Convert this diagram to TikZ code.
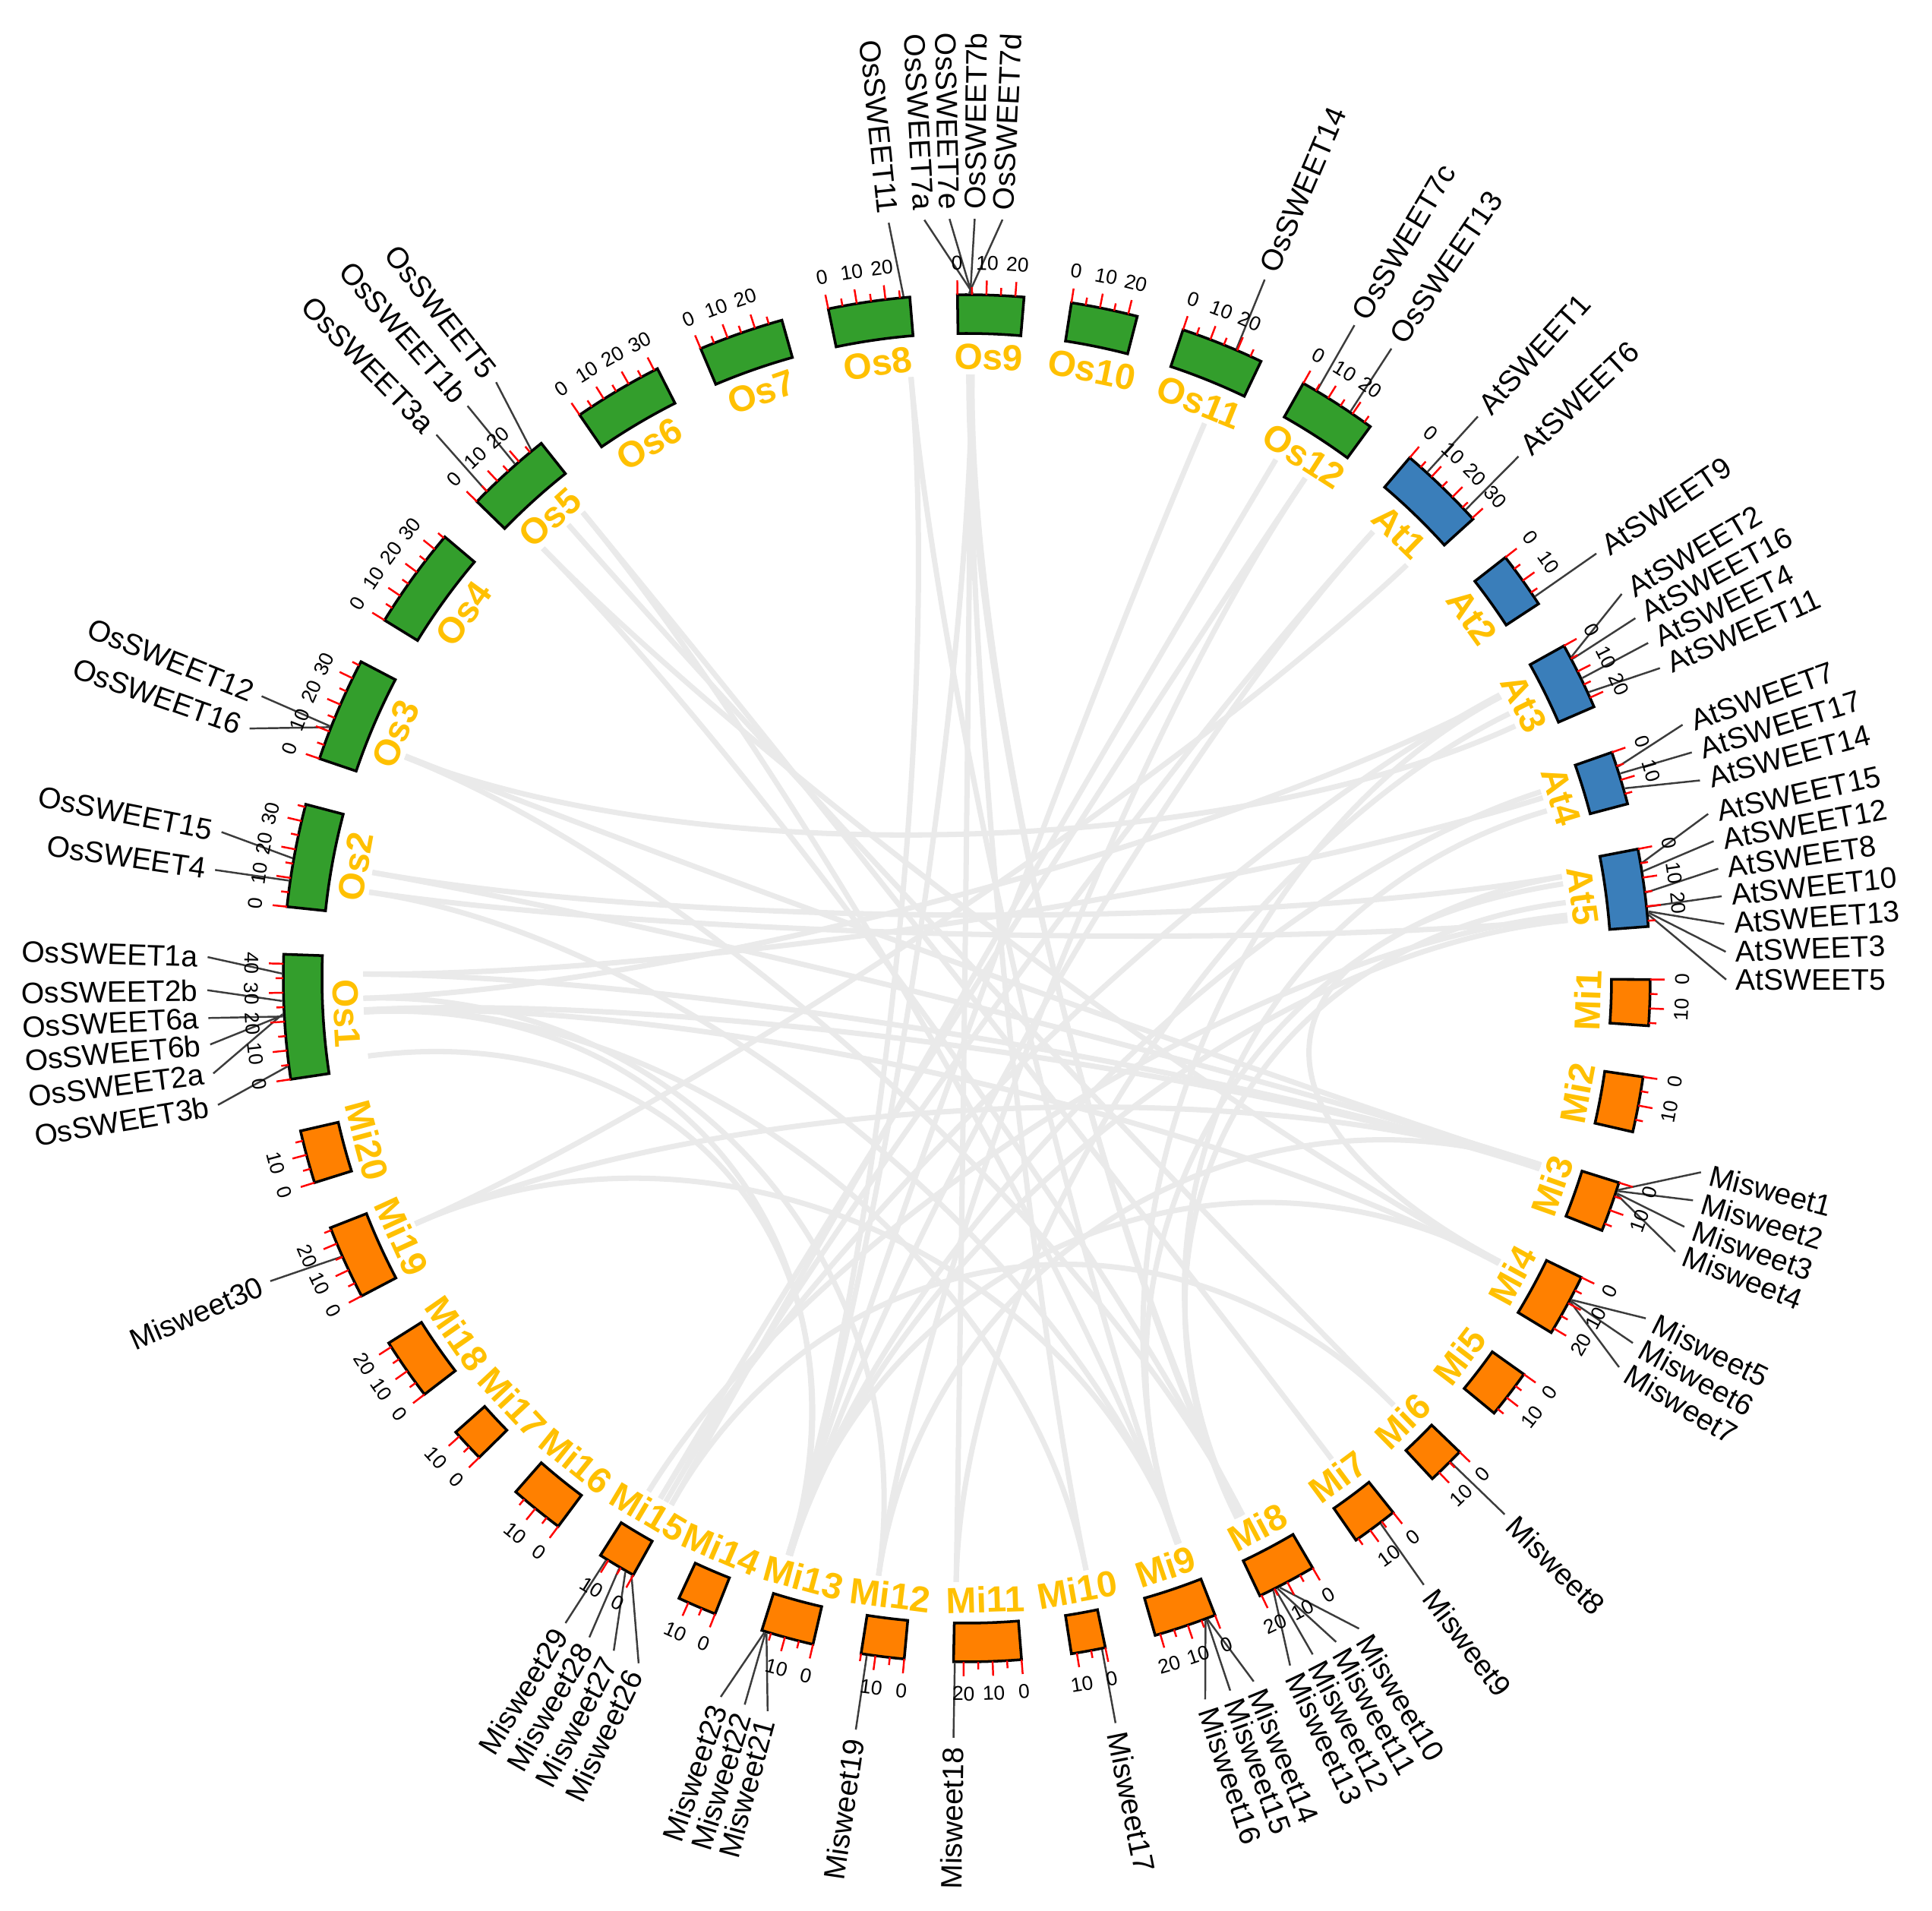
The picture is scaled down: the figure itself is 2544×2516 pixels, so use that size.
\documentclass[tikz,border=0pt]{standalone}
\usepackage{fontspec}
\setmainfont{Liberation Sans}

\definecolor{osgreen}{RGB}{51,158,44}
\definecolor{atblue}{RGB}{58,126,186}
\definecolor{miorange}{RGB}{255,128,0}
\definecolor{chrgold}{RGB}{255,192,0}
\definecolor{linkgray}{RGB}{234,234,234}
\definecolor{leadgray}{RGB}{60,60,60}

\tikzset{
  chrom/.style={draw=black, line width=1pt},
  tickmark/.style={red, line width=0.7pt},
  ticklabel/.style={font=\fontsize{7.5}{8}\selectfont, inner sep=0pt},
  chrlabel/.style={font=\fontsize{13.6}{15}\selectfont\bfseries, text=chrgold, inner sep=0pt},
  genelabel/.style={font=\fontsize{11.1}{12}\selectfont, inner sep=0pt},
  leader/.style={draw=leadgray, line width=0.7pt},
  link/.style={draw=linkgray, line width=2pt},
}

\begin{document}
\begin{tikzpicture}[x=0.01cm, y=0.01cm]
\useasboundingbox (-1273,-1228) rectangle (1271,1288);

\foreach \g/\l/\t in {179.6/178.4/OsSWEET1a, 181.9/180.9/OsSWEET2b, 183.2/183.0/OsSWEET6a,
    183.1/185.0/OsSWEET6b, 183.0/187.2/OsSWEET2a, 187.4/189.6/OsSWEET3b,
    169.9/168.9/OsSWEET15, 171.8/171.8/OsSWEET4,
    158.4/158.2/OsSWEET12, 158.5/160.8/OsSWEET16,
    129.5/128.3/OsSWEET5, 131.3/131.1/OsSWEET1b, 134.6/134.3/OsSWEET3a,
    95.3/95.9/OsSWEET11,
    89.5/93.2/OsSWEET7a, 89.6/91.3/OsSWEET7e, 89.7/89.4/OsSWEET7b, 89.8/87.3/OsSWEET7d,
    66.8/66.9/OsSWEET14, 59.2/59.3/OsSWEET7c, 55.9/56.0/OsSWEET13,
    47.7/47.7/AtSWEET1, 43.2/43.4/AtSWEET6, 33.9/34.0/AtSWEET9,
    28.0/30.4/AtSWEET2, 27.8/28.3/AtSWEET16, 26.0/26.2/AtSWEET4, 24.7/24.1/AtSWEET11,
    18.0/19.5/AtSWEET7, 17.4/17.3/AtSWEET17, 16.1/15.1/AtSWEET14,
    9.7/12.5/AtSWEET15, 9.0/10.4/AtSWEET12, 7.2/8.3/AtSWEET8, 6.0/6.2/AtSWEET10,
    5.6/4.1/AtSWEET13, 5.5/2.0/AtSWEET3, 5.3/-0.1/AtSWEET5,
    -18.0/-14.8/Misweet1, -18.1/-17.0/Misweet2, -18.3/-19.1/Misweet3, -18.4/-21.1/Misweet4,
    -28.0/-26.6/Misweet5, -28.1/-28.7/Misweet6, -28.2/-30.8/Misweet7,
    -45.0/-44.9/Misweet8, -52.8/-53.0/Misweet9,
    -62.8/-58.9/Misweet10, -63.0/-60.9/Misweet11, -63.2/-62.9/Misweet12, -63.4/-64.8/Misweet13,
    -69.4/-67.8/Misweet14, -69.5/-69.7/Misweet15, -69.6/-71.7/Misweet16,
    -78.6/-78.7/Misweet17, -91.0/-91.0/Misweet18, -98.4/-98.4/Misweet19,
    -107.0/-105.2/Misweet21, -107.1/-107.0/Misweet22, -107.2/-108.9/Misweet23,
    -119.3/-115.6/Misweet26, -119.9/-117.7/Misweet27, -120.5/-119.8/Misweet28, -121.8/-121.9/Misweet29,
    -156.0/-156.5/Misweet30}{
  \coordinate (\t-in) at (\g:795);
  \coordinate (\t-c) at (\g:380);
  \coordinate (\t-out) at (\g:902);
  \coordinate (\t-end) at (\l:1000);
  \pgfmathparse{cos(\l)}
  \ifdim\pgfmathresult pt>0pt
    \node[genelabel, rotate=\l, anchor=west] (\t) at (\l:1012) {\t};
  \else
    \node[genelabel, rotate=\l+180, anchor=east] (\t) at (\l:1012) {\t};
  \fi
  \draw[leader] (\t-out) -- (\t-end);
}

\foreach \a/\b in {OsSWEET1a/Misweet3, OsSWEET2b/Misweet19, OsSWEET6a/Misweet22, OsSWEET6b/Misweet17,
    OsSWEET2a/Misweet4, OsSWEET3b/Misweet21, OsSWEET6a/Misweet7, OsSWEET15/Misweet1, OsSWEET4/Misweet14,
    OsSWEET12/Misweet2, OsSWEET16/Misweet10, OsSWEET5/Misweet9, OsSWEET1b/Misweet8,
    OsSWEET3a/Misweet6, OsSWEET11/Misweet16, OsSWEET7b/Misweet17, OsSWEET7e/Misweet18,
    OsSWEET7d/Misweet11, OsSWEET7a/Misweet12, OsSWEET14/Misweet23, OsSWEET7c/Misweet26,
    OsSWEET13/Misweet19, AtSWEET1/Misweet27, AtSWEET6/Misweet30, AtSWEET2/Misweet28,
    AtSWEET4/Misweet18, AtSWEET16/Misweet14, AtSWEET7/Misweet22, AtSWEET14/Misweet12,
    AtSWEET15/Misweet15, AtSWEET12/Misweet5, AtSWEET8/Misweet13, AtSWEET10/Misweet29,
    AtSWEET3/Misweet21,
    OsSWEET15/AtSWEET15, OsSWEET4/AtSWEET13, OsSWEET1a/AtSWEET17, OsSWEET2b/AtSWEET16,
    OsSWEET16/AtSWEET11, OsSWEET3a/Misweet10, OsSWEET5/Misweet15, OsSWEET11/Misweet23,
    OsSWEET7a/Misweet22, OsSWEET13/Misweet28, AtSWEET1/Misweet21, Misweet1/Misweet19,
    Misweet5/Misweet23, Misweet8/Misweet26, Misweet30/Misweet14, Misweet2/Misweet30}{
  \draw[link] (\a-in) .. controls (\a-c) and (\b-c) .. (\b-in);
}

\foreach \nm/\st/\len/\mx/\col in {Os1/188.5/43.27/40/osgreen, Os2/173.99/35.94/35/osgreen,
    Os3/161.26/36.41/35/osgreen, Os4/148.41/35.50/35/osgreen, Os5/135.78/29.96/25/osgreen,
    Os6/124.50/31.25/30/osgreen, Os7/112.91/29.70/25/osgreen, Os8/101.69/28.44/25/osgreen,
    Os9/90.78/23.01/20/osgreen, Os10/81.19/23.21/20/osgreen, Os11/71.55/29.02/25/osgreen,
    Os12/60.50/27.53/25/osgreen,
    At1/49.6/30.43/30/atblue, At2/38.0/19.70/15/atblue, At3/29.1/23.46/20/atblue,
    At4/19.3/18.59/15/atblue, At5/10.9/26.98/25/atblue,
    Mi1/-0.1/16.0/15/miorange, Mi2/-8.3/19.3/15/miorange, Mi3/-17.4/17.5/15/miorange,
    Mi4/-25.95/21.7/20/miorange, Mi5/-35.4/16.9/15/miorange, Mi6/-43.86/13.2/10/miorange,
    Mi7/-51.4/16.0/15/miorange, Mi8/-59.6/20.6/20/miorange, Mi9/-68.7/21.8/20/miorange,
    Mi10/-78.3/11.9/10/miorange, Mi11/-85.4/23.5/20/miorange, Mi12/-95.25/15.0/15/miorange,
    Mi13/-103.0/18.3/15/miorange, Mi14/-111.6/13.6/10/miorange, Mi15/-119.2/13.2/10/miorange,
    Mi16/-126.7/18.9/15/miorange, Mi17/-135.5/11.9/10/miorange, Mi18/-142.5/21.6/20/miorange,
    Mi19/-152.3/25.9/25/miorange, Mi20/-162.6/18.5/15/miorange}{
  \pgfmathsetmacro\en{\st-0.243*\len}
  \pgfmathsetmacro\md{(\st+\en)/2}
  \pgfmathsetmacro\fl{sin(\md)>0 ? -90 : 90}
  \filldraw[chrom, fill=\col] (\st:849) arc[start angle=\st, end angle=\en, radius=849]
    -- (\en:900) arc[start angle=\en, end angle=\st, radius=900] -- cycle;
  \node[chrlabel, rotate=\md+\fl] (\nm) at (\md:818) {\nm};
  \foreach \k in {0,5,...,\mx}{
    \pgfmathsetmacro\ta{\st-0.243*\k}
    \pgfmathtruncatemacro\mj{mod(\k,10)==0}
    \ifnum\mj=1
      \draw[tickmark] (\ta:900) -- (\ta:919);
      \node[ticklabel, rotate=\ta+\fl] (\nm-t\k) at (\ta:942) {\k};
    \else
      \draw[tickmark] (\ta:900) -- (\ta:910);
    \fi
  }
}
\end{tikzpicture}
\end{document}
